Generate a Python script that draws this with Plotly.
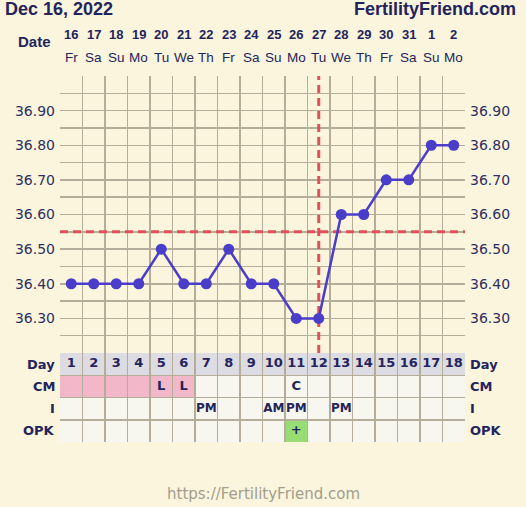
import plotly.graph_objects as go

# ---------------- data ----------------
days = list(range(1, 19))
dates = ['16', '17', '18', '19', '20', '21', '22', '23', '24', '25', '26', '27',
         '28', '29', '30', '31', '1', '2']
weekdays = ['Fr', 'Sa', 'Su', 'Mo', 'Tu', 'We', 'Th', 'Fr', 'Sa', 'Su', 'Mo', 'Tu',
            'We', 'Th', 'Fr', 'Sa', 'Su', 'Mo']
temps = [36.40, 36.40, 36.40, 36.40, 36.50, 36.40, 36.40, 36.50, 36.40, 36.40,
         36.30, 36.30, 36.60, 36.60, 36.70, 36.70, 36.80, 36.80]
coverline = 36.55
ovulation_day = 12
period_days = [1, 2, 3, 4, 5, 6]
cm_codes = ['', '', '', '', 'L', 'L', '', '', '', '', 'C', '', '', '', '', '', '', '']
i_codes = ['', '', '', '', '', '', 'PM', '', '', 'AM', 'PM', '', 'PM', '', '', '', '', '']
opk_codes = ['', '', '', '', '', '', '', '', '', '', '+', '', '', '', '', '', '', '']
y_tickvals = [36.20, 36.25, 36.30, 36.35, 36.40, 36.45, 36.50, 36.55, 36.60, 36.65,
              36.70, 36.75, 36.80, 36.85, 36.90, 36.95, 37.00]
y_ticktext = ['', '', '36.30', '', '36.40', '', '36.50', '', '36.60', '', '36.70', '',
              '36.80', '', '36.90', '', '']
row_labels = ['Day', 'CM', 'I', 'OPK']
title_text = 'Dec 16, 2022'
brand_text = 'FertilityFriend.com'
footer_text = 'https://FertilityFriend.com'

# ---------------- styles ----------------
BG = '#faf5dc'
GRID = '#b3ad9a'
NAVY = '#24245c'
TICK = '#2e2e62'
LINE = '#4a3dc9'
RED = '#e0505a'
CELL = '#f7f6ef'
DAYROW = '#dcdce2'
PINK = '#f2b7c9'
GREEN = '#98dc74'

W, H = 526, 507
ML, MR, MT, MB = 60, 61, 76, 65
PW = W - ML - MR
PH = H - MT - MB
split = (442 - 353) / PH

def py(px):
    return 1 + (MT - px) / PH

def pxx(px):
    return (px - ML) / PW

fig = go.Figure()

fig.add_trace(go.Scatter(x=days, y=temps, mode='lines+markers',
                         line=dict(color=LINE, width=2.5),
                         marker=dict(color=LINE, size=11),
                         hoverinfo='skip', showlegend=False))
fig.add_trace(go.Scatter(x=days, y=temps, mode='markers', yaxis='y3',
                         marker=dict(opacity=0), hoverinfo='skip', showlegend=False))

bold13 = dict(family='DejaVu Sans', size=13, color=NAVY, weight='bold')
bold12 = dict(family='DejaVu Sans', size=12, color=NAVY, weight='bold')
fig.add_trace(go.Scatter(x=days, y=[3.5] * len(days), yaxis='y2', mode='text',
                         text=[str(d) for d in days], textfont=bold13,
                         hoverinfo='skip', showlegend=False))
fig.add_trace(go.Scatter(x=days, y=[2.5] * len(days), yaxis='y2', mode='text',
                         text=cm_codes, textfont=bold13,
                         hoverinfo='skip', showlegend=False))
fig.add_trace(go.Scatter(x=days, y=[1.5] * len(days), yaxis='y2', mode='text',
                         text=i_codes, textfont=bold12,
                         hoverinfo='skip', showlegend=False))
fig.add_trace(go.Scatter(x=days, y=[0.5] * len(days), yaxis='y2', mode='text',
                         text=opk_codes, textfont=bold13,
                         hoverinfo='skip', showlegend=False))

shapes = []
for d in days:
    rows = [
        (3, DAYROW),
        (2, PINK if d in period_days else CELL),
        (1, CELL),
        (0, GREEN if opk_codes[d - 1] == '+' else CELL),
    ]
    for r, col in rows:
        shapes.append(dict(type='rect', xref='x', yref='y2', x0=d - 0.5, x1=d + 0.5,
                           y0=r, y1=r + 1, fillcolor=col, line=dict(width=0),
                           layer='below'))
shapes.append(dict(type='line', xref='x', yref='y', x0=ovulation_day, x1=ovulation_day,
                   y0=y_tickvals[0], y1=y_tickvals[-1],
                   line=dict(color=RED, width=3, dash='8px,5px'), layer='between'))
shapes.append(dict(type='line', xref='x', yref='y', x0=days[0] - 0.5, x1=days[-1] + 0.5,
                   y0=coverline, y1=coverline,
                   line=dict(color=RED, width=3, dash='8px,5px'), layer='between'))

ann = []
for d, dt, wd in zip(days, dates, weekdays):
    ann.append(dict(x=d, y=py(34), xref='x', yref='paper', text=dt, showarrow=False,
                    font=dict(family='Liberation Sans', size=13, color=NAVY, weight='bold'),
                    xanchor='center', yanchor='middle'))
    ann.append(dict(x=d, y=py(57.5), xref='x', yref='paper', text=wd, showarrow=False,
                    font=dict(family='Liberation Sans', size=13.5, color=NAVY),
                    xanchor='center', yanchor='middle'))
ann.append(dict(x=0, xshift=-7, y=py(41), xref='paper', yref='paper', text='Date',
                showarrow=False, xanchor='right', yanchor='middle',
                font=dict(family='Liberation Sans', size=15, color=NAVY, weight='bold')))
ann.append(dict(x=pxx(3), y=py(9), xref='paper', yref='paper', text=title_text,
                showarrow=False, xanchor='left', yanchor='middle',
                font=dict(family='Liberation Sans', size=18, color=NAVY, weight='bold')))
ann.append(dict(x=pxx(518), y=py(9), xref='paper', yref='paper', text=brand_text,
                showarrow=False, xanchor='right', yanchor='middle',
                font=dict(family='Liberation Sans', size=18, color=NAVY, weight='bold')))
for i, lab in enumerate(row_labels):
    yv = 3.5 - i
    ann.append(dict(x=0, xshift=-3, y=yv, xref='paper', yref='y2', text=lab,
                    showarrow=False, xanchor='right', yanchor='middle', font=bold13))
    ann.append(dict(x=1, xshift=3, y=yv, xref='paper', yref='y2', text=lab,
                    showarrow=False, xanchor='left', yanchor='middle', font=bold13))
ann.append(dict(x=pxx(263), y=(442 - 494) / PH, xref='paper', yref='paper', text=footer_text,
                showarrow=False, xanchor='center', yanchor='middle',
                font=dict(family='DejaVu Sans', size=15, color='#a39d8c')))

x_grid = [d - 0.5 for d in days] + [days[-1] + 0.5]
tickfont = dict(family='DejaVu Sans', size=14, color=TICK)

fig.update_layout(
    width=W, height=H,
    margin=dict(l=ML, r=MR, t=MT, b=MB, pad=0),
    paper_bgcolor=BG, plot_bgcolor=BG,
    showlegend=False,
    shapes=shapes, annotations=ann,
    xaxis=dict(range=[days[0] - 0.5, days[-1] + 0.5], tickvals=x_grid,
               showticklabels=False, ticks='', showgrid=True, gridcolor=GRID,
               gridwidth=1.5, zeroline=False, anchor='y2', fixedrange=True),
    yaxis=dict(domain=[split, 1], range=[y_tickvals[0], y_tickvals[-1]],
               tickvals=y_tickvals, ticktext=y_ticktext, ticks='',
               showgrid=True, gridcolor=GRID, gridwidth=1.5, zeroline=False,
               tickfont=tickfont, anchor='x', ticklabelstandoff=4),
    yaxis2=dict(domain=[0, split], range=[0, 4], tickvals=[0, 1, 2, 3, 4],
                showticklabels=False, ticks='', showgrid=True, gridcolor=GRID,
                gridwidth=1.5, zeroline=False, anchor='x'),
    yaxis3=dict(overlaying='y', side='right', anchor='x',
                range=[y_tickvals[0], y_tickvals[-1]],
                tickvals=y_tickvals, ticktext=y_ticktext, ticks='',
                showgrid=False, zeroline=False, tickfont=tickfont, ticklabelstandoff=4),
)

fig.write_html('out.html',
               config={'displayModeBar': False, 'staticPlot': True},
               post_script="document.body.style.margin='0';document.body.style.padding='0';"
                           "document.documentElement.style.background='" + BG + "';")
